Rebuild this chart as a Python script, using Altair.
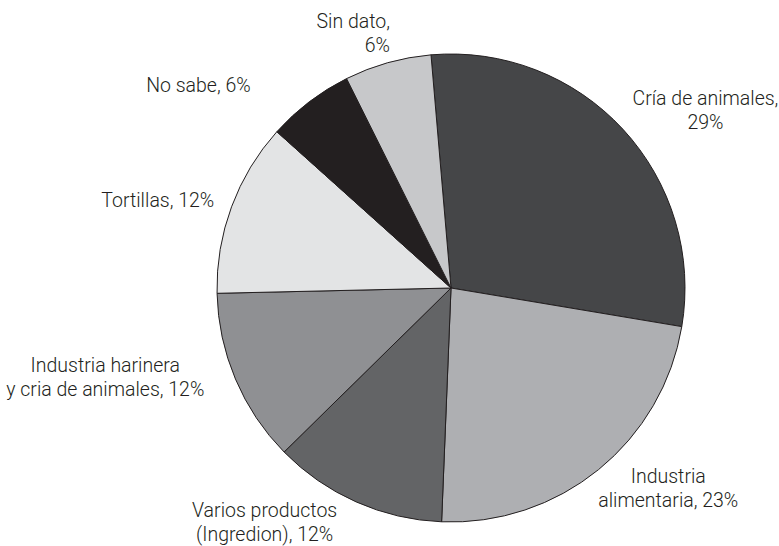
import altair as alt
import pandas as pd
import math

categories = ["Cría de animales", "Industria alimentaria", "Varios productos",
              "Industria harinera", "Tortillas", "No sabe", "Sin dato"]
values = [29, 23, 12, 12, 12, 6, 6]
labels = ["Cría de animales,\n29%", "Industria\nalimentaria, 23%",
          "Varios productos\n(Ingredion), 12%", "Industria harinera\ny cria de animales, 12%",
          "Tortillas, 12%", "No sabe, 6%", "Sin dato,\n6%"]
colors = ["#454648", "#aeafb2", "#636466", "#8f9093", "#e3e4e5", "#231f20", "#c7c8ca"]

df = pd.DataFrame({"cat": categories, "val": values, "label": labels,
                   "order": list(range(len(categories)))})

start = -4.9 * math.pi / 180
cx, cy = 451, 288

theta = alt.Theta("val:Q", stack=True, scale=alt.Scale(range=[start, start + 2 * math.pi]))
order = alt.Order("order:Q", sort="ascending")

base = alt.Chart(df)

pie = base.mark_arc(outerRadius=234, stroke="#231f20", strokeWidth=1).encode(
    theta=theta,
    order=order,
    color=alt.Color("cat:N", scale=alt.Scale(domain=categories, range=colors), legend=None),
    x=alt.value(cx), y=alt.value(cy),
)

# per-label text styling (alignment and offsets)
styles = {
    "Cría de animales": dict(align="center", dx=56, dy=-6),
    "Industria alimentaria": dict(align="center", dx=47, dy=-21),
    "Varios productos": dict(align="center", dx=-77, dy=-24),
    "Industria harinera": dict(align="center", dx=-97, dy=-27),
    "Tortillas": dict(align="center", dx=-40, dy=7),
    "No sabe": dict(align="center", dx=-89, dy=13),
    "Sin dato": dict(align="right", dx=12, dy=-6),
}

layers = [pie]
for c in categories:
    s = styles[c]
    layers.append(
        base.mark_text(radius=270, font="Roboto", fontWeight=300, fontSize=19.5,
                       color="#231f20", baseline="middle", lineBreak="\n",
                       lineHeight=24, **s)
        .encode(theta=theta, order=order, text="label:N",
                opacity=alt.condition(alt.datum.cat == c, alt.value(1), alt.value(0)),
                x=alt.value(cx), y=alt.value(cy))
    )

chart = alt.layer(*layers).properties(
    width=779, height=546, autosize="none", padding=0, background="white"
).configure_view(stroke=None)

chart.save("out.html", embed_options={"renderer": "svg", "actions": False})
